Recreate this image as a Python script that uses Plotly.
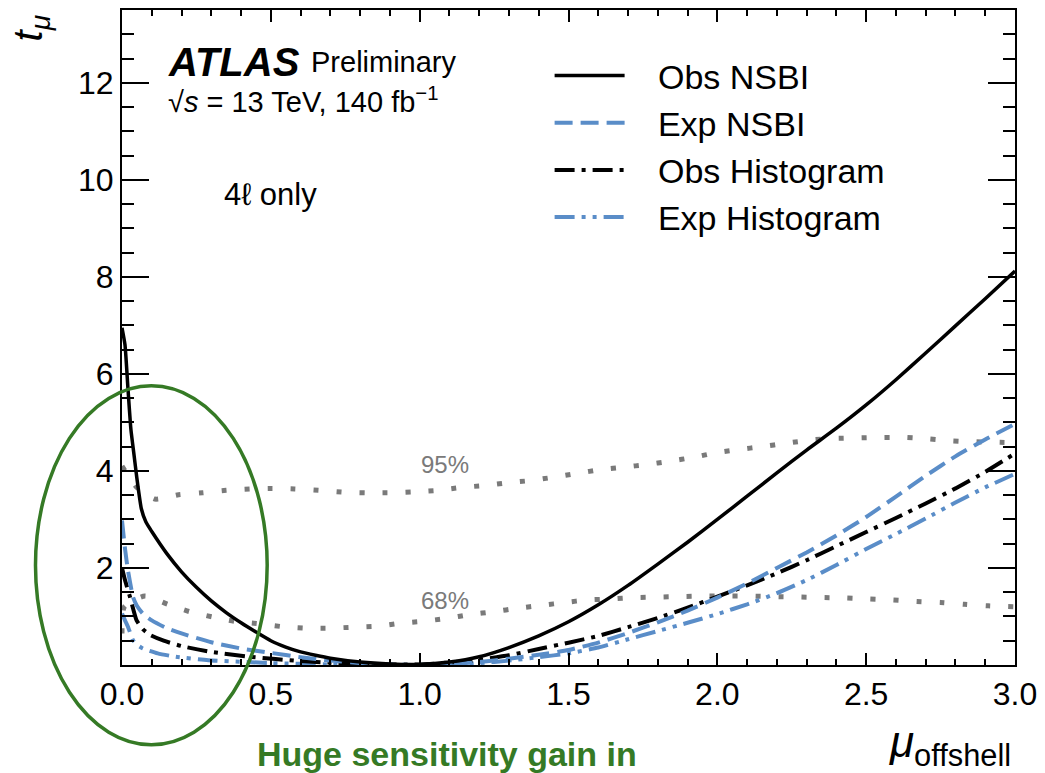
import plotly.graph_objects as go

# ---------------- data ----------------
obs_nsbi_x = [0.0, 0.01, 0.02, 0.03, 0.04, 0.05, 0.065, 0.08, 0.1, 0.15, 0.2, 0.25, 0.3, 0.35, 0.4, 0.45,
              0.5, 0.55, 0.6, 0.65, 0.7, 0.8, 0.9, 1.0, 1.1, 1.2, 1.3, 1.4, 1.5, 1.6, 1.7, 1.8, 1.9, 2.0,
              2.1, 2.2, 2.3, 2.4, 2.5, 2.6, 2.7, 2.8, 2.9, 3.0]
obs_nsbi_y = [6.95, 6.6, 5.7, 4.85, 4.35, 3.85, 3.22, 2.95, 2.75, 2.3, 1.92, 1.6, 1.32, 1.08, 0.87, 0.68,
              0.5, 0.37, 0.27, 0.2, 0.14, 0.06, 0.02, 0.01, 0.06, 0.17, 0.36, 0.6, 0.89, 1.24, 1.64, 2.08,
              2.53, 3.0, 3.48, 3.96, 4.43, 4.88, 5.36, 5.88, 6.43, 6.99, 7.55, 8.12]

exp_nsbi_x = [0.0, 0.01, 0.02, 0.037, 0.05, 0.07, 0.1, 0.15, 0.2, 0.3, 0.4, 0.5, 0.6, 0.7, 0.8, 0.9, 1.0,
              1.1, 1.2, 1.3, 1.4, 1.5, 1.6, 1.7, 1.8, 1.9, 2.0, 2.1, 2.2, 2.3, 2.4, 2.5, 2.6, 2.7, 2.8,
              2.9, 3.0]
exp_nsbi_y = [2.98, 2.4, 1.95, 1.4, 1.22, 1.06, 0.92, 0.76, 0.65, 0.47, 0.34, 0.25, 0.16, 0.09, 0.04,
              0.01, 0.0, 0.02, 0.06, 0.13, 0.21, 0.31, 0.46, 0.66, 0.88, 1.12, 1.39, 1.68, 2.0, 2.32, 2.67,
              3.05, 3.47, 3.9, 4.3, 4.65, 4.97]

obs_hist_x = [0.0, 0.01, 0.027, 0.049, 0.07, 0.094, 0.14, 0.2, 0.3, 0.43, 0.6, 0.8, 1.0, 1.1, 1.2, 1.3,
              1.4, 1.5, 1.6, 1.7, 1.8, 1.9, 2.0, 2.1, 2.2, 2.3, 2.4, 2.5, 2.6, 2.7, 2.8, 2.9, 3.0]
obs_hist_y = [2.0, 1.75, 1.4, 0.92, 0.74, 0.62, 0.5, 0.39, 0.27, 0.17, 0.08, 0.02, 0.01, 0.05, 0.11, 0.2,
              0.33, 0.46, 0.6, 0.78, 0.97, 1.18, 1.41, 1.64, 1.89, 2.16, 2.45, 2.74, 3.03, 3.33, 3.64,
              3.98, 4.36]

exp_hist_x = [0.0, 0.01, 0.02, 0.037, 0.05, 0.07, 0.12, 0.18, 0.29, 0.5, 0.7, 0.9, 1.1, 1.2, 1.3, 1.4,
              1.5, 1.6, 1.7, 1.8, 1.9, 2.0, 2.1, 2.2, 2.3, 2.4, 2.5, 2.6, 2.7, 2.8, 2.9, 3.0]
exp_hist_y = [1.06, 0.92, 0.79, 0.51, 0.42, 0.34, 0.24, 0.17, 0.1, 0.04, 0.01, 0.0, 0.01, 0.04, 0.09, 0.16,
              0.24, 0.36, 0.53, 0.7, 0.87, 1.05, 1.25, 1.48, 1.75, 2.06, 2.39, 2.7, 3.02, 3.35, 3.66, 3.94]

cl95_x = [0.0, 0.05, 0.11, 0.19, 0.27, 0.35, 0.43, 0.5, 0.58, 0.66, 0.75, 0.82, 0.9, 0.98, 1.06, 1.14,
          1.22, 1.3, 1.37, 1.45, 1.53, 1.61, 1.69, 1.76, 1.84, 1.92, 2.0, 2.07, 2.15, 2.23, 2.32, 2.39,
          2.47, 2.55, 2.63, 2.71, 2.79, 2.87, 2.95, 3.0]
cl95_y = [4.1, 3.66, 3.42, 3.51, 3.55, 3.6, 3.63, 3.64, 3.63, 3.6, 3.56, 3.55, 3.55, 3.57, 3.6, 3.66,
          3.7, 3.76, 3.8, 3.87, 3.95, 4.03, 4.08, 4.13, 4.2, 4.28, 4.38, 4.44, 4.5, 4.57, 4.64, 4.67,
          4.68, 4.69, 4.69, 4.66, 4.62, 4.6, 4.59, 4.58]

cl68_x = [0.0, 0.008, 0.077, 0.154, 0.227, 0.305, 0.38, 0.46, 0.54, 0.62, 0.7, 0.78, 0.86, 0.935, 1.01,
          1.09, 1.17, 1.25, 1.33, 1.41, 1.49, 1.56, 1.64, 1.72, 1.8, 1.87, 1.96, 2.04, 2.11, 2.19, 2.28,
          2.35, 2.43, 2.51, 2.59, 2.67, 2.75, 2.83, 2.91, 3.0]
cl68_y = [0.65, 1.2, 1.42, 1.25, 1.1, 0.99, 0.9, 0.85, 0.79, 0.76, 0.76, 0.78, 0.8, 0.86, 0.9, 0.96,
          1.04, 1.1, 1.17, 1.23, 1.29, 1.34, 1.36, 1.39, 1.4, 1.41, 1.42, 1.42, 1.42, 1.41, 1.4, 1.39,
          1.38, 1.36, 1.34, 1.31, 1.29, 1.25, 1.22, 1.2]

series_names = ["Obs NSBI", "Exp NSBI", "Obs Histogram", "Exp Histogram"]
y_tickvals = [2, 4, 6, 8, 10, 12]
x_tickvals = [0.0, 0.5, 1.0, 1.5, 2.0, 2.5, 3.0]

# ---------------- layout geometry (pixels of the 1045x773 page) ----------------
W, H = 1045, 773
L, R, T, B = 122, 1020, 8, 665


def px(x):
    return (x - L) / (R - L)


def py(y):
    return (B - y) / (B - T)


FONT = "Liberation Sans, Arial, Helvetica, sans-serif"
BLUE = "#5A8DC8"
GRAY = "#7A7A7A"
GREEN = "#357A25"
PAD = "\u00a0\u00a0\u00a0"

fig = go.Figure()

fig.add_trace(go.Scatter(x=cl95_x, y=cl95_y, mode="lines", showlegend=False, hoverinfo="skip",
                         line=dict(color=GRAY, width=5, dash="5px,18px", shape="spline", smoothing=0.6)))
fig.add_trace(go.Scatter(x=cl68_x, y=cl68_y, mode="lines", showlegend=False, hoverinfo="skip",
                         line=dict(color=GRAY, width=5, dash="5px,18px", shape="spline", smoothing=0.6)))

fig.add_trace(go.Scatter(x=exp_hist_x, y=exp_hist_y, mode="lines", name=PAD + series_names[3],
                         line=dict(color=BLUE, width=4, dash="20px,7px,4px,7px,4px,7px",
                                   shape="spline", smoothing=0.5)))
fig.add_trace(go.Scatter(x=obs_hist_x, y=obs_hist_y, mode="lines", name=PAD + series_names[2],
                         line=dict(color="black", width=4, dash="20px,7px,4px,7px",
                                   shape="spline", smoothing=0.5)))
fig.add_trace(go.Scatter(x=exp_nsbi_x, y=exp_nsbi_y, mode="lines", name=PAD + series_names[1],
                         line=dict(color=BLUE, width=4, dash="18px,8px", shape="spline", smoothing=0.5)))
fig.add_trace(go.Scatter(x=obs_nsbi_x, y=obs_nsbi_y, mode="lines", name=PAD + series_names[0],
                         line=dict(color="black", width=3.5, shape="spline", smoothing=0.5)))

axis_common = dict(showline=True, linecolor="black", linewidth=2, mirror="ticks", showgrid=False,
                   zeroline=False, ticks="inside", tickcolor="black",
                   tickfont=dict(family=FONT, size=32, color="black"))

fig.update_xaxes(range=[0, 3], tickvals=x_tickvals, tickformat=".1f", ticklen=12, tickwidth=1.5,
                 minor=dict(ticks="inside", dtick=0.1, ticklen=6, tickwidth=1.5, tickcolor="black"),
                 **axis_common)
fig.update_yaxes(range=[0, 13.5], tickvals=y_tickvals, ticklen=27, tickwidth=1.5,
                 minor=dict(ticks="inside", dtick=0.5, ticklen=12, tickwidth=1.5, tickcolor="black"),
                 **axis_common)


def ann(text, x, y, size, xanchor="left", yanchor="middle", color="black", angle=0):
    fig.add_annotation(text=text, x=px(x), y=py(y), xref="paper", yref="paper", showarrow=False,
                       xanchor=xanchor, yanchor=yanchor, textangle=angle,
                       font=dict(family=FONT, size=size, color=color))


ann("<b><i>ATLAS</i></b>", 166, 60, 40)
ann("Preliminary", 310, 60, 29)
ann("√<i>s</i> = 13 TeV, 140 fb<sup>−1</sup>", 166, 98, 29)
ann("4ℓ only", 223, 193, 31)
ann("95%", 447, 464, 24, xanchor="center", color=GRAY)
ann("68%", 447, 600, 24, xanchor="center", color=GRAY)
ann("<i>t</i><sub><i>μ</i></sub>", 30, 27, 40, xanchor="center", angle=-90)
ann("<i>μ</i><sub>offshell</sub>", 1018, 745, 44, xanchor="right")
ann("<b>Huge sensitivity gain in</b>", 256, 754, 34, color=GREEN)

fig.add_shape(type="circle", xref="paper", yref="paper", x0=px(35), x1=px(268), y0=py(745), y1=py(385),
              line=dict(color=GREEN, width=3.5), layer="above")

fig.update_layout(
    width=W, height=H,
    margin=dict(l=L, r=W - R, t=T, b=H - B),
    paper_bgcolor="white", plot_bgcolor="white",
    font=dict(family=FONT, color="black"),
    legend=dict(x=px(552), y=py(45), xanchor="left", yanchor="top", bgcolor="rgba(0,0,0,0)",
                font=dict(family=FONT, size=34, color="black"), traceorder="reversed",
                itemwidth=70, tracegroupgap=0),
)

fig.write_html("out.html", config={"displayModeBar": False},
               post_script="document.body.style.margin='0px';")
